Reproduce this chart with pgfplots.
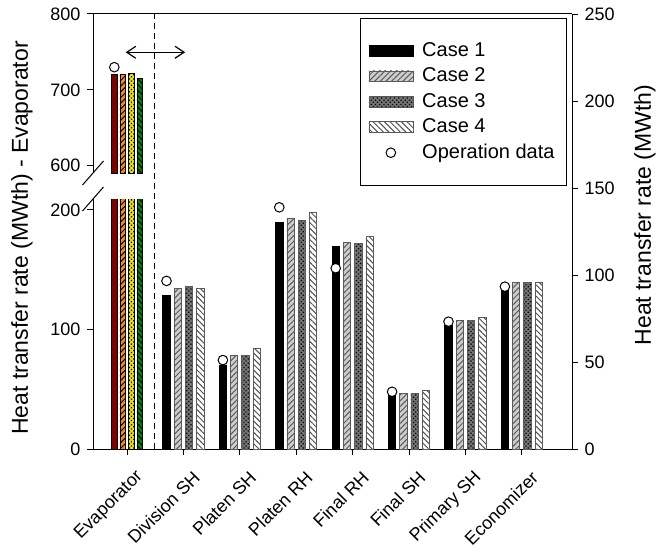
\documentclass[border=0pt]{standalone}
\usepackage{fontspec}
\setmainfont{Liberation Sans}
\usepackage{pgfplots}
\pgfplotsset{compat=1.18}
\usetikzlibrary{patterns,patterns.meta,arrows.meta}

\definecolor{evred}{RGB}{128,0,0}
\definecolor{evorange}{RGB}{255,140,0}
\definecolor{evyellow}{RGB}{230,230,0}
\definecolor{evgreen}{RGB}{0,128,0}
\definecolor{ctwofill}{RGB}{205,205,205}
\definecolor{ctwoline}{RGB}{90,90,90}
\definecolor{cthreefill}{RGB}{115,115,115}
\definecolor{cfourline}{RGB}{80,80,80}

\pgfplotsset{
  base/.style={
    scale only axis, width=239.5pt, xmin=-0.603, xmax=7.89,
    tick align=outside, major tick length=2.8pt,
    axis line style={line width=0.5pt},
    tick style={line width=0.5pt, black},
    /pgf/number format/assume math mode=true,
    tick label style={font=\fontsize{9}{10}\selectfont},
  },
  barleg/.style={legend image code/.code={\draw[##1] (0pt,-2.7pt) rectangle (22pt,2.7pt);}},
  gbar/.style={ybar, bar width=0.13, line width=0.35pt, barleg},
  ebar/.style={ybar, bar width=0.1, line width=0.35pt, draw=black},
  c1/.style={gbar, bar shift=-0.3, fill=black, draw=black},
  c2/.style={gbar, bar shift=-0.1, fill=ctwofill, draw=ctwoline,
    postaction={pattern={Lines[angle=45,distance=2pt,line width=0.5pt]}, pattern color=ctwoline}},
  c3/.style={gbar, bar shift=0.1, fill=cthreefill, draw=ctwoline,
    postaction={pattern={Dots[angle=45,distance=1.5pt,radius=0.45pt]}, pattern color=black}},
  c4/.style={gbar, bar shift=0.3, fill=white, draw=ctwoline,
    postaction={pattern={Lines[angle=-45,distance=2pt,line width=0.5pt]}, pattern color=cfourline}},
  e1/.style={ebar, bar shift=-0.225, fill=evred},
  e2/.style={ebar, bar shift=-0.075, fill=evorange,
    postaction={pattern={Lines[angle=45,distance=2pt,line width=0.5pt]}, pattern color=black}},
  e3/.style={ebar, bar shift=0.075, fill=evyellow,
    postaction={pattern={Dots[angle=45,distance=1.5pt,radius=0.45pt]}, pattern color=black}},
  e4/.style={ebar, bar shift=0.225, fill=evgreen,
    postaction={pattern={Lines[angle=-45,distance=2pt,line width=0.5pt]}, pattern color=black}},
  opdata/.style={only marks, mark=*, mark size=2.4pt,
    mark options={fill=white, draw=black, line width=0.5pt}},
  opleg/.style={legend image code/.code={\draw[mark repeat=2,mark phase=2,##1] plot coordinates {(0pt,0pt) (11pt,0pt) (22pt,0pt)};}},
}

\begin{document}
\begin{tikzpicture}
\useasboundingbox (0,0) rectangle (336pt,276pt);

% lower part of the left (evaporator) axis
\begin{axis}[base, name=A, at={(46.5pt,51.5pt)}, anchor=south west,
  height=125pt, ymin=0, ymax=209.2,
  axis y line*=left, axis x line=none, xtick=\empty, ytick={0,100,200}]
\addplot[e1] coordinates {(0,720)};
\addplot[e2] coordinates {(0,720.5)};
\addplot[e3] coordinates {(0,721.4)};
\addplot[e4] coordinates {(0,715.4)};
\end{axis}
\draw[line width=0.5pt] ([xshift=-5.25pt,yshift=-6pt]A.north west) -- ([xshift=5.25pt,yshift=6pt]A.north west);

% upper part of the left (evaporator) axis
\begin{axis}[base, name=U, at={(46.5pt,189.5pt)}, anchor=south west,
  height=79.5pt, ymin=590.4, ymax=800,
  axis y line*=left, axis x line*=top, xtick=\empty, ytick={600,700,800}]
\addplot[e1] coordinates {(0,720)};
\addplot[e2] coordinates {(0,720.5)};
\addplot[e3] coordinates {(0,721.4)};
\addplot[e4] coordinates {(0,715.4)};
\addplot[opdata] coordinates {(-0.225,729.9)};
\end{axis}
\draw[line width=0.5pt] ([xshift=-5.25pt,yshift=-6pt]U.south west) -- ([xshift=5.25pt,yshift=6pt]U.south west);

% right axis, other heat exchangers
\begin{axis}[base, name=B, at={(46.5pt,51.5pt)}, anchor=south west,
  height=217.5pt, ymin=0, ymax=250,
  axis y line*=right, axis x line*=bottom,
  ytick={0,50,...,250},
  xtick={0,...,7},
  xticklabels={Evaporator, Division SH, Platen SH, Platen RH, Final RH, Final SH, Primary SH, Economizer},
  xticklabel style={font=\fontsize{9}{11}\selectfont, xshift=9pt, yshift=-7.5pt, rotate=45, anchor=east},
  legend cell align=left,
  legend style={at={(0.9896,0.9908)}, anchor=north east, draw=black,
    line width=0.5pt, inner xsep=4pt, inner ysep=10pt, row sep=0.2pt,
    /tikz/every odd column/.append style={column sep=2.5pt},
    font=\fontsize{10}{12}\selectfont},
]
\addplot[c1] coordinates {(1,88.5) (2,48.3) (3,130.3) (4,116.3) (5,31.0) (6,71.3) (7,91.4)};
\addplot[c2] coordinates {(1,92.4) (2,53.6) (3,132.4) (4,118.8) (5,32.0) (6,74.1) (7,95.8)};
\addplot[c3] coordinates {(1,93.3) (2,53.6) (3,131.2) (4,118.0) (5,32.0) (6,74.1) (7,95.8)};
\addplot[c4] coordinates {(1,92.4) (2,57.6) (3,136.0) (4,122.4) (5,33.5) (6,75.5) (7,95.8)};
\addplot[opdata, opleg]
  coordinates {(0.7,96.6) (1.7,51.1) (2.7,138.9) (3.7,103.9) (4.7,32.9) (5.7,73.2) (6.7,93.3)};
\legend{Case 1, Case 2, Case 3, Case 4, Operation data}
\draw[line width=0.5pt, dash pattern=on 3pt off 2pt] (axis cs:0.484,0) -- (axis cs:0.484,250);
\draw[{Straight Barb[length=4.5pt,width=6pt]}-{Straight Barb[length=4.5pt,width=6pt]}, line width=0.6pt]
  (axis cs:-0.023,228) -- (axis cs:1.03,228);
\end{axis}

\node[rotate=90, font=\fontsize{11.5}{13}\selectfont] at (11pt,157pt) {Heat transfer rate (MWth) - Evaporator};
\node[rotate=90, font=\fontsize{11.5}{13}\selectfont] at (322.5pt,168.5pt) {Heat transfer rate (MWth)};
\end{tikzpicture}
\end{document}
